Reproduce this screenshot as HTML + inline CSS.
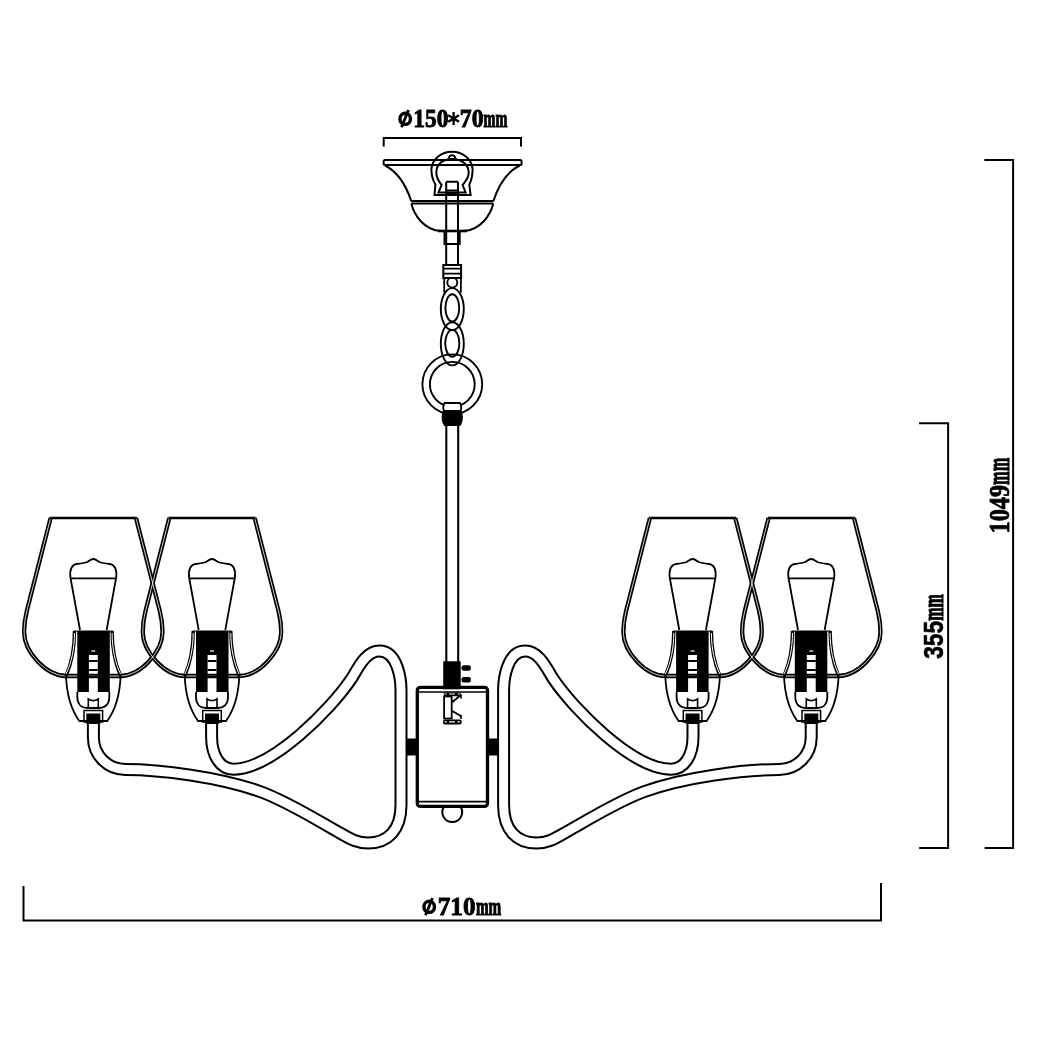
<!DOCTYPE html>
<html><head><meta charset="utf-8"><style>
html,body{margin:0;padding:0;background:#fff;width:1055px;height:1054px;overflow:hidden}
svg{display:block;will-change:transform}
</style></head><body>
<svg width="1055" height="1054" viewBox="0 0 1055 1054">
<rect width="1055" height="1054" fill="#fff"/>
<g fill="none" stroke="#000" stroke-width="2"><path d="M383.7,146.4 V138 H521 V146.4"/><path d="M23.5,886 V920.6 H881 V883"/><path d="M984.3,160 H1013.1 V848 H984.6"/><path d="M919,423.2 H948.1 V848 H919.2"/></g>
<g fill="none" stroke="#000" stroke-width="2"><rect x="383.6" y="160" width="138" height="5" rx="1.5"/><path d="M385,165.5 C398,172 406,185 411.3,201.2 M519.6,165.5 C506.6,172 498.6,185 493.3,201.2"/><path d="M411.3,201 H493.3 M411.3,203.6 H493.3"/><path d="M411.3,203.6 C414,215 424,230 441,231 H463.6 C480.6,230 490.6,215 493.3,203.6"/><path d="M438,231 H467" stroke-width="2.6"/><path d="M434.5,195 L435.4,184.5 C431.5,178 431.4,173 431.4,169.5 C432,159 441,151.8 452,151.8 C463,151.8 472,159 472.6,169.5 C472.6,173 472.5,178 469.3,184.5 L470.6,195 Z"/><path d="M438.5,192.5 L441.6,185 C437.5,180 436.3,176 436.3,172.8 C436.3,164 443,159 452,159 C461,159 468.7,164 468.7,172.8 C468.7,176 467,180 462.6,185 L465.6,192.5 Z"/><path d="M448.8,158.5 A3.3,3.3 0 0 1 455.4,158.5"/><path d="M446.2,181.7 H458 M446.2,181.7 V264 M458,181.7 V264"/><path d="M446.2,190.6 H458 M446.2,193.7 H458"/><rect x="444.5" y="231" width="15.2" height="13" stroke-width="2"/><rect x="443.3" y="265" width="17.8" height="13" stroke-width="2"/><path d="M443.3,268.7 H461 M443.3,273.6 H461" stroke-width="1.8"/><path d="M444.2,278 V292.5 M460.9,278 V292.5" stroke-width="1.8"/></g>
<g fill="none" stroke="#000" stroke-width="1.9"><circle cx="452.3" cy="384.3" r="29.9"/><circle cx="452.3" cy="384.3" r="22.4"/><ellipse cx="452.3" cy="343.8" rx="11.5" ry="21.6"/><ellipse cx="452.3" cy="343.3" rx="7.1" ry="13.4"/><ellipse cx="452.3" cy="309.1" rx="11.5" ry="21"/><ellipse cx="452.3" cy="307.9" rx="6.9" ry="13.6"/><circle cx="452.3" cy="282.6" r="5"/></g><path d="M444.5,403 H460 C461.5,406 461.5,409 460.5,411 H444 C443,409 443,406 444.5,403 Z" fill="#fff" stroke="#000" stroke-width="1.8"/><path d="M444,411 H460.5 C462.5,414 462.5,420 460.5,424 H444 C442,420 442,414 444,411 Z" fill="#000" stroke="#000" stroke-width="1.8"/><path d="M444,425 H460.5" stroke="#000" stroke-width="2"/>
<g><path d="M93.4,722 V737.5 C93.4,755.2 107.7,769.5 125.4,769.5 C160,769.5 220,777.1 260,791.5 C287,801.2 316,819.6 340,833 C352,840 358,843 368,843 C388,843 401,830 401,805 V690 C401,679.3 397.5,651 379.5,651 C365.05,651 357.4,669.75 351.5,678.6 C331.17,709.1 271.92,769.2 233.5,769.2 C220,769.2 211.6,755 211.6,737 V722" fill="none" stroke="#000" stroke-width="13"/>
<path d="M93.4,722 V737.5 C93.4,755.2 107.7,769.5 125.4,769.5 C160,769.5 220,777.1 260,791.5 C287,801.2 316,819.6 340,833 C352,840 358,843 368,843 C388,843 401,830 401,805 V690 C401,679.3 397.5,651 379.5,651 C365.05,651 357.4,669.75 351.5,678.6 C331.17,709.1 271.92,769.2 233.5,769.2 C220,769.2 211.6,755 211.6,737 V722" fill="none" stroke="#fff" stroke-width="9"/></g>
<g transform="translate(904.6,0) scale(-1,1)"><path d="M93.4,722 V737.5 C93.4,755.2 107.7,769.5 125.4,769.5 C160,769.5 220,777.1 260,791.5 C287,801.2 316,819.6 340,833 C352,840 358,843 368,843 C388,843 401,830 401,805 V690 C401,679.3 397.5,651 379.5,651 C365.05,651 357.4,669.75 351.5,678.6 C331.17,709.1 271.92,769.2 233.5,769.2 C220,769.2 211.6,755 211.6,737 V722" fill="none" stroke="#000" stroke-width="13"/>
<path d="M93.4,722 V737.5 C93.4,755.2 107.7,769.5 125.4,769.5 C160,769.5 220,777.1 260,791.5 C287,801.2 316,819.6 340,833 C352,840 358,843 368,843 C388,843 401,830 401,805 V690 C401,679.3 397.5,651 379.5,651 C365.05,651 357.4,669.75 351.5,678.6 C331.17,709.1 271.92,769.2 233.5,769.2 C220,769.2 211.6,755 211.6,737 V722" fill="none" stroke="#fff" stroke-width="9"/></g>
<g transform="translate(93.3,0)">
<path d="M-42.7,518 L-66.5,611 C-68.2,618 -69.2,625 -69.2,632 C-69.2,652 -47,676 -27,676 L27,676 C47,676 69.2,652 69.2,632 C69.2,625 68.2,618 66.5,611 L42.7,518" fill="none" stroke="#000" stroke-width="4.3" class="sh"/>
</g>
<g transform="translate(212,0)">
<path d="M-42.7,518 L-66.5,611 C-68.2,618 -69.2,625 -69.2,632 C-69.2,652 -47,676 -27,676 L27,676 C47,676 69.2,652 69.2,632 C69.2,625 68.2,618 66.5,611 L42.7,518" fill="none" stroke="#000" stroke-width="4.3" class="sh"/>
</g>
<g transform="translate(904.6,0) scale(-1,1)"><g transform="translate(93.3,0)">
<path d="M-42.7,518 L-66.5,611 C-68.2,618 -69.2,625 -69.2,632 C-69.2,652 -47,676 -27,676 L27,676 C47,676 69.2,652 69.2,632 C69.2,625 68.2,618 66.5,611 L42.7,518" fill="none" stroke="#000" stroke-width="4.3" class="sh"/>
</g>
<g transform="translate(212,0)">
<path d="M-42.7,518 L-66.5,611 C-68.2,618 -69.2,625 -69.2,632 C-69.2,652 -47,676 -27,676 L27,676 C47,676 69.2,652 69.2,632 C69.2,625 68.2,618 66.5,611 L42.7,518" fill="none" stroke="#000" stroke-width="4.3" class="sh"/>
</g></g>
<g transform="translate(93.3,0)"><path d="M-42.7,518 L-66.5,611 C-68.2,618 -69.2,625 -69.2,632 C-69.2,652 -47,676 -27,676 L27,676 C47,676 69.2,652 69.2,632 C69.2,625 68.2,618 66.5,611 L42.7,518" fill="none" stroke="#fff" stroke-width="0.8"/><path d="M-43.5,518 H43.5" stroke="#000" stroke-width="2.4"/></g>
<g transform="translate(212,0)"><path d="M-42.7,518 L-66.5,611 C-68.2,618 -69.2,625 -69.2,632 C-69.2,652 -47,676 -27,676 L27,676 C47,676 69.2,652 69.2,632 C69.2,625 68.2,618 66.5,611 L42.7,518" fill="none" stroke="#fff" stroke-width="0.8"/><path d="M-43.5,518 H43.5" stroke="#000" stroke-width="2.4"/></g>
<g transform="translate(904.6,0) scale(-1,1)"><g transform="translate(93.3,0)"><path d="M-42.7,518 L-66.5,611 C-68.2,618 -69.2,625 -69.2,632 C-69.2,652 -47,676 -27,676 L27,676 C47,676 69.2,652 69.2,632 C69.2,625 68.2,618 66.5,611 L42.7,518" fill="none" stroke="#fff" stroke-width="0.8"/><path d="M-43.5,518 H43.5" stroke="#000" stroke-width="2.4"/></g>
<g transform="translate(212,0)"><path d="M-42.7,518 L-66.5,611 C-68.2,618 -69.2,625 -69.2,632 C-69.2,652 -47,676 -27,676 L27,676 C47,676 69.2,652 69.2,632 C69.2,625 68.2,618 66.5,611 L42.7,518" fill="none" stroke="#fff" stroke-width="0.8"/><path d="M-43.5,518 H43.5" stroke="#000" stroke-width="2.4"/></g></g>
<g transform="translate(93.3,0)" fill="none" stroke="#000">
<path d="M-13.3,630 L-22.8,578 C-24,570 -21.5,564.5 -16.3,564 C-12,563.5 -8.5,563 -6,562 C-3.5,560.3 -2,559 0,559 C2,559 3.5,560.3 6,562 C8.5,563 12,563.5 16.3,564 C21.5,564.5 24,570 22.8,578 L13.3,630" stroke-width="1.8"/>
<path d="M-22.8,578.3 H22.8" stroke-width="1.8"/>
<path d="M-18.8,631 C-18.8,648 -22,664 -27.3,676 M18.8,631 C18.8,648 22,664 27.3,676" stroke-width="3.4"/>
<path d="M-18.8,633 C-18.8,648 -22,664 -27.3,674 M18.8,633 C18.8,648 22,664 27.3,674" stroke="#fff" stroke-width="1.0"/>
<path d="M-19.5,631 H19.5" stroke-width="1.2"/>
<path d="M-16,631 H16.5 V692 H4.5 V655 H-4.4 V692 H-16 Z" fill="#000" stroke="none"/>
<path d="M-4.5,661 H4.5 M-4.5,670 H4.5 M-4.5,676.5 H4.5" stroke-width="1.8"/>
<path d="M-2,651 H2" stroke="#fff" stroke-width="1.2"/>
<path d="M-16,692 V697 C-16,705 -11,708 -6,708 H6 C11,708 16,705 16,697 V692" stroke-width="1.8"/>
<path d="M-5,708 V699 C-2,701 2,701 5,699 V708" stroke-width="1.6"/>
<path d="M-27.3,676 C-26.5,696 -20.5,712 -14,721 H14 C20.5,712 26.5,696 27.3,676" stroke-width="1.8"/>
<rect x="-9.3" y="710.5" width="18.6" height="11.5" stroke-width="1.5"/>
<rect x="-7" y="713.5" width="14" height="10.5" fill="#000" stroke="none"/>
</g>
<g transform="translate(212,0)" fill="none" stroke="#000">
<path d="M-13.3,630 L-22.8,578 C-24,570 -21.5,564.5 -16.3,564 C-12,563.5 -8.5,563 -6,562 C-3.5,560.3 -2,559 0,559 C2,559 3.5,560.3 6,562 C8.5,563 12,563.5 16.3,564 C21.5,564.5 24,570 22.8,578 L13.3,630" stroke-width="1.8"/>
<path d="M-22.8,578.3 H22.8" stroke-width="1.8"/>
<path d="M-18.8,631 C-18.8,648 -22,664 -27.3,676 M18.8,631 C18.8,648 22,664 27.3,676" stroke-width="3.4"/>
<path d="M-18.8,633 C-18.8,648 -22,664 -27.3,674 M18.8,633 C18.8,648 22,664 27.3,674" stroke="#fff" stroke-width="1.0"/>
<path d="M-19.5,631 H19.5" stroke-width="1.2"/>
<path d="M-16,631 H16.5 V692 H4.5 V655 H-4.4 V692 H-16 Z" fill="#000" stroke="none"/>
<path d="M-4.5,661 H4.5 M-4.5,670 H4.5 M-4.5,676.5 H4.5" stroke-width="1.8"/>
<path d="M-2,651 H2" stroke="#fff" stroke-width="1.2"/>
<path d="M-16,692 V697 C-16,705 -11,708 -6,708 H6 C11,708 16,705 16,697 V692" stroke-width="1.8"/>
<path d="M-5,708 V699 C-2,701 2,701 5,699 V708" stroke-width="1.6"/>
<path d="M-27.3,676 C-26.5,696 -20.5,712 -14,721 H14 C20.5,712 26.5,696 27.3,676" stroke-width="1.8"/>
<rect x="-9.3" y="710.5" width="18.6" height="11.5" stroke-width="1.5"/>
<rect x="-7" y="713.5" width="14" height="10.5" fill="#000" stroke="none"/>
</g>
<g transform="translate(904.6,0) scale(-1,1)"><g transform="translate(93.3,0)" fill="none" stroke="#000">
<path d="M-13.3,630 L-22.8,578 C-24,570 -21.5,564.5 -16.3,564 C-12,563.5 -8.5,563 -6,562 C-3.5,560.3 -2,559 0,559 C2,559 3.5,560.3 6,562 C8.5,563 12,563.5 16.3,564 C21.5,564.5 24,570 22.8,578 L13.3,630" stroke-width="1.8"/>
<path d="M-22.8,578.3 H22.8" stroke-width="1.8"/>
<path d="M-18.8,631 C-18.8,648 -22,664 -27.3,676 M18.8,631 C18.8,648 22,664 27.3,676" stroke-width="3.4"/>
<path d="M-18.8,633 C-18.8,648 -22,664 -27.3,674 M18.8,633 C18.8,648 22,664 27.3,674" stroke="#fff" stroke-width="1.0"/>
<path d="M-19.5,631 H19.5" stroke-width="1.2"/>
<path d="M-16,631 H16.5 V692 H4.5 V655 H-4.4 V692 H-16 Z" fill="#000" stroke="none"/>
<path d="M-4.5,661 H4.5 M-4.5,670 H4.5 M-4.5,676.5 H4.5" stroke-width="1.8"/>
<path d="M-2,651 H2" stroke="#fff" stroke-width="1.2"/>
<path d="M-16,692 V697 C-16,705 -11,708 -6,708 H6 C11,708 16,705 16,697 V692" stroke-width="1.8"/>
<path d="M-5,708 V699 C-2,701 2,701 5,699 V708" stroke-width="1.6"/>
<path d="M-27.3,676 C-26.5,696 -20.5,712 -14,721 H14 C20.5,712 26.5,696 27.3,676" stroke-width="1.8"/>
<rect x="-9.3" y="710.5" width="18.6" height="11.5" stroke-width="1.5"/>
<rect x="-7" y="713.5" width="14" height="10.5" fill="#000" stroke="none"/>
</g>
<g transform="translate(212,0)" fill="none" stroke="#000">
<path d="M-13.3,630 L-22.8,578 C-24,570 -21.5,564.5 -16.3,564 C-12,563.5 -8.5,563 -6,562 C-3.5,560.3 -2,559 0,559 C2,559 3.5,560.3 6,562 C8.5,563 12,563.5 16.3,564 C21.5,564.5 24,570 22.8,578 L13.3,630" stroke-width="1.8"/>
<path d="M-22.8,578.3 H22.8" stroke-width="1.8"/>
<path d="M-18.8,631 C-18.8,648 -22,664 -27.3,676 M18.8,631 C18.8,648 22,664 27.3,676" stroke-width="3.4"/>
<path d="M-18.8,633 C-18.8,648 -22,664 -27.3,674 M18.8,633 C18.8,648 22,664 27.3,674" stroke="#fff" stroke-width="1.0"/>
<path d="M-19.5,631 H19.5" stroke-width="1.2"/>
<path d="M-16,631 H16.5 V692 H4.5 V655 H-4.4 V692 H-16 Z" fill="#000" stroke="none"/>
<path d="M-4.5,661 H4.5 M-4.5,670 H4.5 M-4.5,676.5 H4.5" stroke-width="1.8"/>
<path d="M-2,651 H2" stroke="#fff" stroke-width="1.2"/>
<path d="M-16,692 V697 C-16,705 -11,708 -6,708 H6 C11,708 16,705 16,697 V692" stroke-width="1.8"/>
<path d="M-5,708 V699 C-2,701 2,701 5,699 V708" stroke-width="1.6"/>
<path d="M-27.3,676 C-26.5,696 -20.5,712 -14,721 H14 C20.5,712 26.5,696 27.3,676" stroke-width="1.8"/>
<rect x="-9.3" y="710.5" width="18.6" height="11.5" stroke-width="1.5"/>
<rect x="-7" y="713.5" width="14" height="10.5" fill="#000" stroke="none"/>
</g></g>
<rect x="406.6" y="738.5" width="11.4" height="17" fill="#000"/>
<g transform="translate(904.6,0) scale(-1,1)"><rect x="406.6" y="738.5" width="11.4" height="17" fill="#000"/></g>
<path d="M446.3,425 V662 M458.2,425 V662" stroke="#000" stroke-width="2.1" fill="none"/><rect x="417.3" y="687.4" width="70.2" height="119" rx="3" fill="none" stroke="#000" stroke-width="3.3"/><path d="M419,692 H486 M419,801.6 H486" stroke="#000" stroke-width="1.7"/><rect x="443.2" y="661.3" width="17.5" height="28" fill="#000"/><rect x="461.5" y="665.3" width="9.4" height="5.4" rx="2.2" fill="#000"/><rect x="461.5" y="677" width="9.4" height="5.4" rx="2.2" fill="#000"/><rect x="443.8" y="692.6" width="16.8" height="3.6" fill="#000"/><path d="M444.5,694 H446.6 M449.2,694 H455 M457.8,694 H460" stroke="#fff" stroke-width="1.1"/><rect x="444.1" y="696.5" width="7.6" height="22" fill="none" stroke="#000" stroke-width="1.8"/><path d="M461,694.8 L452.2,702.3 M461,716.2 L452.2,711" stroke="#000" stroke-width="2"/><path d="M461,694.5 V698.5 M461,715 V719" stroke="#000" stroke-width="1.6"/><rect x="443" y="719.4" width="18.6" height="5" rx="2" fill="#000"/><path d="M444.6,721.9 H446.8 M449.2,721.9 H455 M457.5,721.9 H459.8" stroke="#fff" stroke-width="1.3"/><path d="M443.5,807.5 A9.9,9.9 0 1 0 461,807.5" fill="none" stroke="#000" stroke-width="2"/>
<g fill="none" stroke="#000"><ellipse cx="405.2" cy="118.8" rx="5.3" ry="5.6" stroke-width="3.4"/><path d="M408.5,110 L401.5,127.3" stroke-width="2.8"/></g><text x="413.2" y="127.2" font-family="Liberation Serif" font-weight="bold" font-size="25.5" stroke="#000" stroke-width="0.9" textLength="35.2" lengthAdjust="spacingAndGlyphs">150</text><path d="M453.6,112 V125 M448.2,115.2 L459,121.8 M459,115.2 L448.2,121.8" stroke="#000" stroke-width="2.4"/><text x="459.8" y="127.2" font-family="Liberation Serif" font-weight="bold" font-size="25.5" stroke="#000" stroke-width="0.9" textLength="23.8" lengthAdjust="spacingAndGlyphs">70</text><text x="483.6" y="126.8" font-family="Liberation Serif" font-weight="bold" font-size="24.5" stroke="#000" stroke-width="1.1" textLength="23.8" lengthAdjust="spacingAndGlyphs">mm</text><g fill="none" stroke="#000"><ellipse cx="429.2" cy="906.8" rx="5.3" ry="5.6" stroke-width="3.4"/><path d="M432.5,898 L425.5,915.3" stroke-width="2.8"/></g><text x="437.7" y="915" font-family="Liberation Serif" font-weight="bold" font-size="26" stroke="#000" stroke-width="0.9" textLength="37.8" lengthAdjust="spacingAndGlyphs">710</text><text x="475.9" y="914.6" font-family="Liberation Serif" font-weight="bold" font-size="25.5" stroke="#000" stroke-width="1.1" textLength="25.3" lengthAdjust="spacingAndGlyphs">mm</text><g transform="translate(1009.2,533.4) rotate(-90)"><text x="0" y="0" font-family="Liberation Serif" font-weight="bold" font-size="29" stroke="#000" stroke-width="0.8" textLength="48.5" lengthAdjust="spacingAndGlyphs">1049</text><text x="48.5" y="0" font-family="Liberation Serif" font-weight="bold" font-size="32" stroke="#000" stroke-width="1.1" textLength="27.2" lengthAdjust="spacingAndGlyphs">mm</text></g><g transform="translate(943.2,658.8) rotate(-90)"><text x="0" y="0" font-family="Liberation Sans" font-weight="bold" font-size="27.5" stroke="#000" stroke-width="0.6" textLength="38" lengthAdjust="spacingAndGlyphs">355</text><text x="38" y="0" font-family="Liberation Serif" font-weight="bold" font-size="30" stroke="#000" stroke-width="1.1" textLength="26.6" lengthAdjust="spacingAndGlyphs">mm</text></g>
</svg>
</body></html>
